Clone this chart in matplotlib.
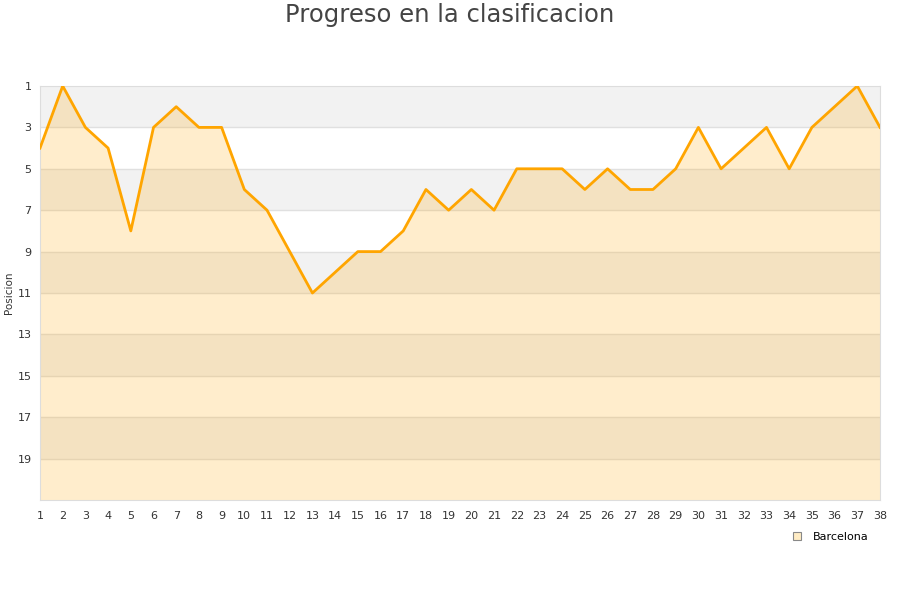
import matplotlib
matplotlib.use('Agg')
import matplotlib.pyplot as plt
from matplotlib.lines import Line2D

# Datos: posición del Barcelona en cada jornada
jornadas = list(range(1, 39))
posiciones = [4, 1, 3, 4, 8, 3, 2, 3, 3, 6, 7, 9, 11, 10, 9, 9, 8, 6, 7, 6,
              7, 5, 5, 5, 6, 5, 6, 6, 5, 3, 5, 4, 3, 5, 3, 2, 1, 3]
equipo = 'Barcelona'
yticks = [1, 3, 5, 7, 9, 11, 13, 15, 17, 19]

fig = plt.figure(figsize=(9, 6), dpi=100)
ax = fig.add_axes([40 / 900, 100 / 600, 840 / 900, 414 / 600])

# Bandas alternas de fondo
for y0 in range(1, 21, 4):
    ax.axhspan(y0, y0 + 2, color='#f2f2f2', zorder=0, lw=0)
for y in yticks[1:]:
    ax.axhline(y, color='#e0e0e0', lw=1, zorder=1)

ax.fill_between(jornadas, posiciones, 21, color='#ffa500', alpha=0.2, lw=0, zorder=2)
ax.plot(jornadas, posiciones, color='#ffa500', lw=2, zorder=3)

ax.set_xlim(1, 38)
ax.set_ylim(21, 1)
ax.set_xticks(jornadas)
ax.set_yticks(yticks)
ax.tick_params(length=0, labelsize=8, colors='#333333', pad=8)
ax.tick_params(axis='y', pad=6)
for s in ax.spines.values():
    s.set_color('#dddddd')

fig.text(9 / 900, 1 - 293 / 600, 'Posicion', rotation=90, ha='center', va='center',
         fontsize=7.5, color='#333333')
fig.text(0.5, 1 - 15 / 600, 'Progreso en la clasificacion', ha='center', va='center',
         fontsize=17.5, color='#444444')

handle = Line2D([], [], marker='s', ls='', markersize=6,
                markerfacecolor='#ffecc4', markeredgecolor='#888888', markeredgewidth=0.8)
fig.legend([handle], [equipo], loc='center', bbox_to_anchor=(827 / 900, 1 - 537 / 600),
           frameon=False, fontsize=8, handletextpad=0.4)

plt.savefig('out.png', dpi=100, facecolor='white')
